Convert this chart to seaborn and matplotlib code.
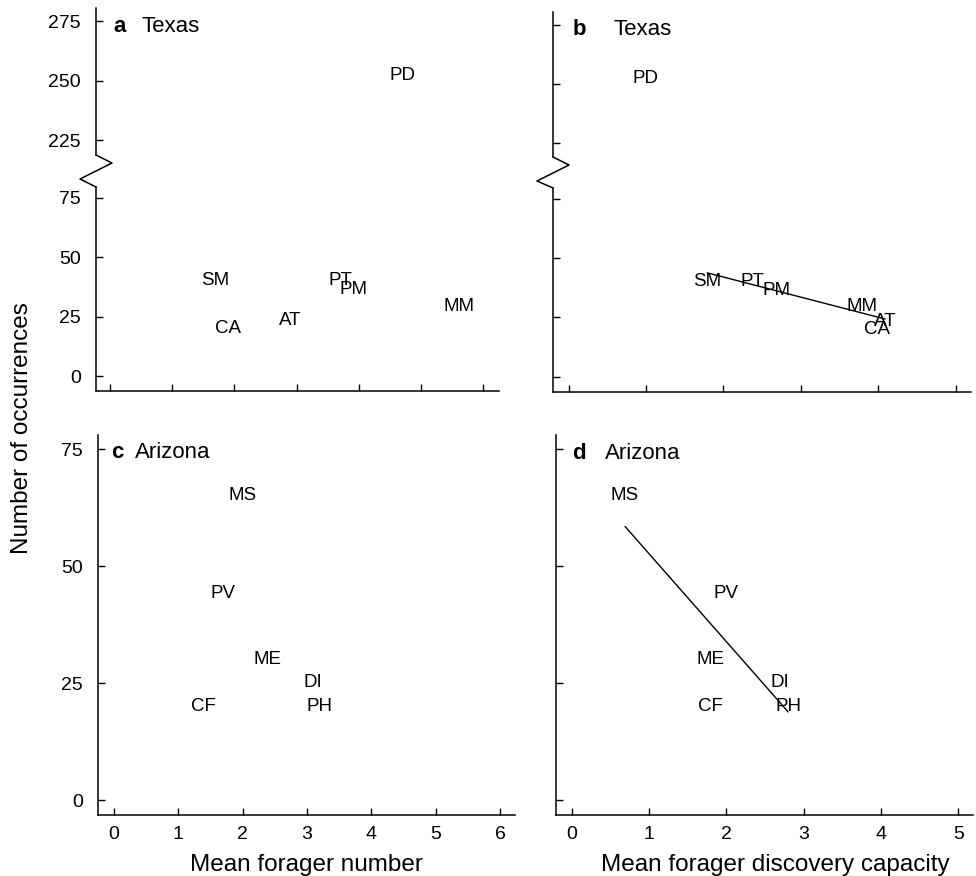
import numpy as np
import pandas as pd
import matplotlib
matplotlib.use("Agg")
import matplotlib.pyplot as plt
from matplotlib.lines import Line2D
import seaborn as sns

# Texas (panels a, b)
tx_species = ["PD", "SM", "CA", "AT", "PT", "PM", "MM"]
tx_occurrences = [253, 41, 21, 24.3, 41.2, 37.4, 30.3]
tx_forager_number = [4.70, 1.69, 1.90, 2.90, 3.70, 3.91, 5.60]
tx_discovery = [0.99, 1.79, 3.98, 4.09, 2.38, 2.69, 3.79]

# Arizona (panels c, d)
az_species = ["MS", "PV", "ME", "DI", "PH", "CF"]
az_occurrences = [65.7, 44.6, 30.6, 25.6, 20.5, 20.5]
az_forager_number = [2.00, 1.70, 2.39, 3.09, 3.20, 1.39]
az_discovery = [0.69, 2.00, 1.80, 2.69, 2.80, 1.80]

low_ticks = [0, 25, 50, 75]
high_ticks = [225, 250, 275]

texas = pd.DataFrame({"species": tx_species, "occ": tx_occurrences,
                      "number": tx_forager_number, "discovery": tx_discovery})
arizona = pd.DataFrame({"species": az_species, "occ": az_occurrences,
                        "number": az_forager_number, "discovery": az_discovery})

sns.set_style("ticks")
plt.rcParams["font.family"] = ["Liberation Sans", "DejaVu Sans"]
plt.rcParams["axes.linewidth"] = 1.1
plt.rcParams["text.color"] = "black"

W, H = 976, 876
fig = plt.figure(figsize=(W / 100, H / 100), dpi=100)


def px_rect(left, top, right, bottom):
    return [left / W, 1 - bottom / H, (right - left) / W, (bottom - top) / H]


def style_axis(ax, xlim, ylim, yticks, show_x, show_ylabels, bottom_spine):
    ax.set_xlim(*xlim)
    ax.set_ylim(*ylim)
    sns.despine(ax=ax, top=True, right=True, bottom=not bottom_spine)
    for sp in ax.spines.values():
        sp.set_color("black")
    ax.set_yticks(yticks)
    ax.tick_params(axis="y", direction="in", length=5, width=1.0, pad=11,
                   labelsize=14, colors="black", labelleft=show_ylabels)
    if bottom_spine:
        ax.set_xticks(range(int(xlim[1]) + 1))
        ax.tick_params(axis="x", direction="in", length=5, width=1.0, pad=8,
                       labelsize=14, colors="black", labelbottom=show_x)
    else:
        ax.set_xticks([])
    ax.set_xlabel("")
    ax.set_ylabel("")
    ax.set_facecolor("none")


def put_labels(ax, df, xcol, sel):
    for _, r in df[sel].iterrows():
        ax.annotate(r["species"], (r[xcol], r["occ"]), xytext=(0, -1.5),
                    textcoords="offset points", ha="center", va="center",
                    fontsize=13.5, color="black")


def zigzag(spine_x, top_y, bottom_y):
    xs = [spine_x, spine_x + 16, spine_x - 16, spine_x]
    ys = [top_y, top_y + 8, top_y + 24, bottom_y]
    fig.add_artist(Line2D([x / W for x in xs], [1 - y / H for y in ys],
                          transform=fig.transFigure, color="black", lw=1.1))


def panel_tag(ax, letter, name, x0, x1, y):
    ax.text(x0, y, letter, transform=ax.transAxes, fontsize=16,
            fontweight="bold", va="baseline", ha="left")
    ax.text(x1, y, name, transform=ax.transAxes, fontsize=16,
            va="baseline", ha="left")


# ---- panel a: Texas, forager number (broken axis)
a_hi = fig.add_axes(px_rect(96, 8, 499, 155))
a_lo = fig.add_axes(px_rect(96, 187, 499, 391.5))
hi = texas["occ"] > 100
put_labels(a_hi, texas, "number", hi)
put_labels(a_lo, texas, "number", ~hi)
style_axis(a_hi, (-0.225, 6.25), (218.7, 280.5), high_ticks, False, True, False)
style_axis(a_lo, (-0.225, 6.25), (-6.4, 79.5), low_ticks, False, True, True)
zigzag(96, 155, 187)
panel_tag(a_hi, "a", "Texas", 0.042, 0.112, 0.839)

# ---- panel b: Texas, discovery capacity (broken axis) with fit
b_hi = fig.add_axes(px_rect(553, 12, 971, 157))
b_lo = fig.add_axes(px_rect(553, 188, 971, 392))
put_labels(b_hi, texas, "discovery", hi)
put_labels(b_lo, texas, "discovery", ~hi)
sns.regplot(data=texas[~hi], x="discovery", y="occ", ax=b_lo, scatter=False,
            ci=None, truncate=True, color="black", line_kws={"lw": 1.0})
style_axis(b_hi, (-0.203, 5.2), (219, 280.5), high_ticks, False, False, False)
style_axis(b_lo, (-0.203, 5.2), (-6.4, 79.5), low_ticks, False, False, True)
zigzag(553, 157, 188)
panel_tag(b_hi, "b", "Texas", 0.048, 0.144, 0.841)

# ---- panel c: Arizona, forager number
ax_c = fig.add_axes(px_rect(98, 435, 515, 815))
put_labels(ax_c, arizona, "number", arizona["occ"] > -1)
style_axis(ax_c, (-0.244, 6.23), (-3.2, 78.1), low_ticks, True, True, True)
panel_tag(ax_c, "c", "Arizona", 0.031, 0.089, 0.939)

# ---- panel d: Arizona, discovery capacity with fit
ax_d = fig.add_axes(px_rect(556, 435, 973, 815))
put_labels(ax_d, arizona, "discovery", arizona["occ"] > -1)
sns.regplot(data=arizona, x="discovery", y="occ", ax=ax_d, scatter=False,
            ci=None, truncate=True, color="black", line_kws={"lw": 1.0})
style_axis(ax_d, (-0.203, 5.19), (-3.2, 78.1), low_ticks, True, False, True)
panel_tag(ax_d, "d", "Arizona", 0.038, 0.1175, 0.936)

# shared labels
fig.text(22 / W, 1 - 428 / H, "Number of occurrences", rotation=90,
         ha="center", va="center", fontsize=17.5)
fig.text(306 / W, 1 - 871.5 / H, "Mean forager number",
         ha="center", va="baseline", fontsize=17.5)
fig.text(775 / W, 1 - 871.5 / H, "Mean forager discovery capacity",
         ha="center", va="baseline", fontsize=17.5)

fig.savefig("out.png", dpi=100, facecolor="white")
